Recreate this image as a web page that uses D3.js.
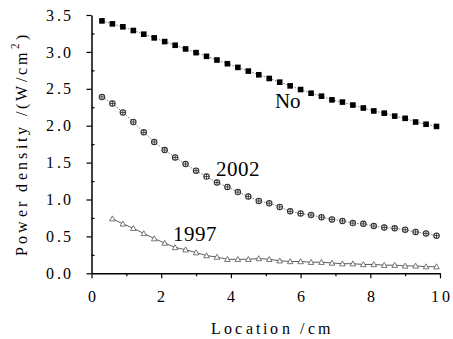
<!DOCTYPE html>
<html>
<head>
<meta charset="utf-8">
<script src="https://cdn.jsdelivr.net/npm/d3@7"></script>
<style>
  @font-face { font-family: "ChartSerif"; src: local("Liberation Serif"), local("LiberationSerif"), local("DejaVu Serif"); }
  body { margin: 0; background: #fff; }
  svg text { font-family: ChartSerif, "Liberation Serif", "DejaVu Serif", serif !important; }
</style>
</head>
<body>
<script>
// positions along the tube (cm)
var xNo = [0.3, 0.6, 0.9, 1.2, 1.5, 1.8, 2.1, 2.4, 2.7, 3.0, 3.3, 3.6, 3.9, 4.2, 4.5, 4.8, 5.1,
  5.4, 5.7, 6.0, 6.3, 6.6, 6.9, 7.2, 7.5, 7.8, 8.1, 8.4, 8.7, 9.0, 9.3, 9.6, 9.9];
var yNo = [3.42, 3.38, 3.34, 3.29, 3.24, 3.19, 3.14, 3.09, 3.04, 2.99, 2.94, 2.89, 2.84, 2.79, 2.74, 2.69, 2.64,
  2.59, 2.54, 2.49, 2.44, 2.40, 2.35, 2.32, 2.28, 2.24, 2.20, 2.17, 2.13, 2.10, 2.05, 2.02, 1.99];

var x2002 = xNo;
var y2002 = [2.39, 2.30, 2.18, 2.05, 1.91, 1.78, 1.67, 1.57, 1.48, 1.39, 1.31, 1.23, 1.17, 1.10, 1.04, 0.98, 0.95,
  0.90, 0.84, 0.81, 0.79, 0.76, 0.73, 0.71, 0.68, 0.67, 0.64, 0.62, 0.61, 0.59, 0.56, 0.54, 0.51];

var x1997 = xNo.slice(1);
var y1997 = [0.74, 0.67, 0.61, 0.54, 0.47, 0.41, 0.35, 0.32, 0.28, 0.24, 0.22, 0.19, 0.19, 0.19, 0.20, 0.19,
  0.17, 0.16, 0.16, 0.15, 0.15, 0.14, 0.13, 0.13, 0.12, 0.12, 0.11, 0.11, 0.10, 0.10, 0.09, 0.09];

var xTicks = [0, 2, 4, 6, 8, 10];
var yTicks = [0, 0.5, 1.0, 1.5, 2.0, 2.5, 3.0, 3.5];

var width = 453, height = 339;

let svg = d3.select("body").append("svg")
  .attr("width", width)
  .attr("height", height)
  .style("display", "block");

let x = d3.scaleLinear().domain([0, 10]).range([91.5, 440]);
let y = d3.scaleLinear().domain([0, 3.5]).range([273.3, 15]);

// minor ticks first
svg.append("g")
  .attr("transform", "translate(0,273.3)")
  .call(d3.axisBottom(x).tickValues(d3.range(1, 10, 2)).tickSize(3).tickFormat(""))
  .call(g => g.select(".domain").remove());
svg.append("g")
  .attr("transform", "translate(91.5,0)")
  .call(d3.axisRight(y).tickValues(d3.range(0.25, 3.5, 0.5)).tickSize(3).tickFormat(""))
  .call(g => g.select(".domain").remove());

let xAxis = svg.append("g")
  .attr("transform", "translate(0,273.3)")
  .call(d3.axisBottom(x).tickValues(xTicks).tickSize(5).tickSizeOuter(0).tickPadding(12));
let yAxis = svg.append("g")
  .attr("transform", "translate(91.5,0)")
  .call(d3.axisLeft(y).tickValues(yTicks).tickSize(5).tickSizeOuter(0).tickPadding(13).tickFormat(d3.format(".1f")));

svg.selectAll("g").attr("font-family", null);
svg.selectAll(".domain").attr("stroke", "#000").attr("stroke-width", 1.5);
svg.selectAll(".tick line").attr("stroke", "#000").attr("stroke-width", 1.2);
svg.selectAll(".tick text")
  .style("font-size", "16px")
  .style("letter-spacing", "2.5px")
  .attr("fill", "#000");
xAxis.selectAll(".tick text").attr("dx", "1px");

// axis titles
svg.append("text")
  .attr("x", 272).attr("y", 334)
  .attr("text-anchor", "middle")
  .style("font-size", "16px")
  .style("letter-spacing", "3.3px")
  .text("Location /cm");

let yt = svg.append("text")
  .attr("transform", "translate(27,144) rotate(-90)")
  .attr("text-anchor", "middle")
  .style("font-size", "16px")
  .style("letter-spacing", "3.3px");
yt.append("tspan").text("Power density /(W/cm");
yt.append("tspan").attr("dy", -8).style("font-size", "11px").text("2");
yt.append("tspan").attr("dy", 8).text(")");

// lines
let line = d3.line().x(d => x(d[0])).y(d => y(d[1]));
let dNo = d3.zip(xNo, yNo), d2002 = d3.zip(x2002, y2002), d1997 = d3.zip(x1997, y1997);

svg.append("path").datum(dNo).attr("d", line)
  .attr("fill", "none").attr("stroke", "#555").attr("stroke-width", 0.8).attr("stroke-dasharray", "1.5,1.5");
svg.append("path").datum(d2002).attr("d", line)
  .attr("fill", "none").attr("stroke", "#555").attr("stroke-width", 0.8).attr("stroke-dasharray", "1.5,1.5");
svg.append("path").datum(d1997).attr("d", line)
  .attr("fill", "none").attr("stroke", "#333").attr("stroke-width", 0.8);

// markers
svg.append("g").selectAll("rect").data(dNo).enter().append("rect")
  .attr("x", d => x(d[0]) - 2.8).attr("y", d => y(d[1]) - 2.8)
  .attr("width", 5.6).attr("height", 5.6).attr("fill", "#000");

let m2002 = svg.append("g").selectAll("g").data(d2002).enter().append("g")
  .attr("transform", d => "translate(" + x(d[0]) + "," + y(d[1]) + ")");
m2002.append("circle").attr("r", 2.7).attr("fill", "#fff").attr("stroke", "#333").attr("stroke-width", 1.1);
m2002.append("path").attr("d", "M-2.7,0H2.7M0,-2.7V2.7").attr("stroke", "#333").attr("stroke-width", 0.9);

svg.append("g").selectAll("path").data(d1997).enter().append("path")
  .attr("transform", d => "translate(" + x(d[0]) + "," + y(d[1]) + ")")
  .attr("d", "M0,-2.8L2.8,2.2L-2.8,2.2Z")
  .attr("fill", "#fff").attr("stroke", "#555").attr("stroke-width", 0.8);

// series labels
let labels = [["No", 275, 108], ["2002", 216, 176], ["1997", 173, 241]];
svg.selectAll(".lab").data(labels).enter().append("text")
  .attr("class", "lab")
  .attr("x", d => d[1]).attr("y", d => d[2])
  .style("font-size", "21px")
  .text(d => d[0]);
</script>
</body>
</html>
